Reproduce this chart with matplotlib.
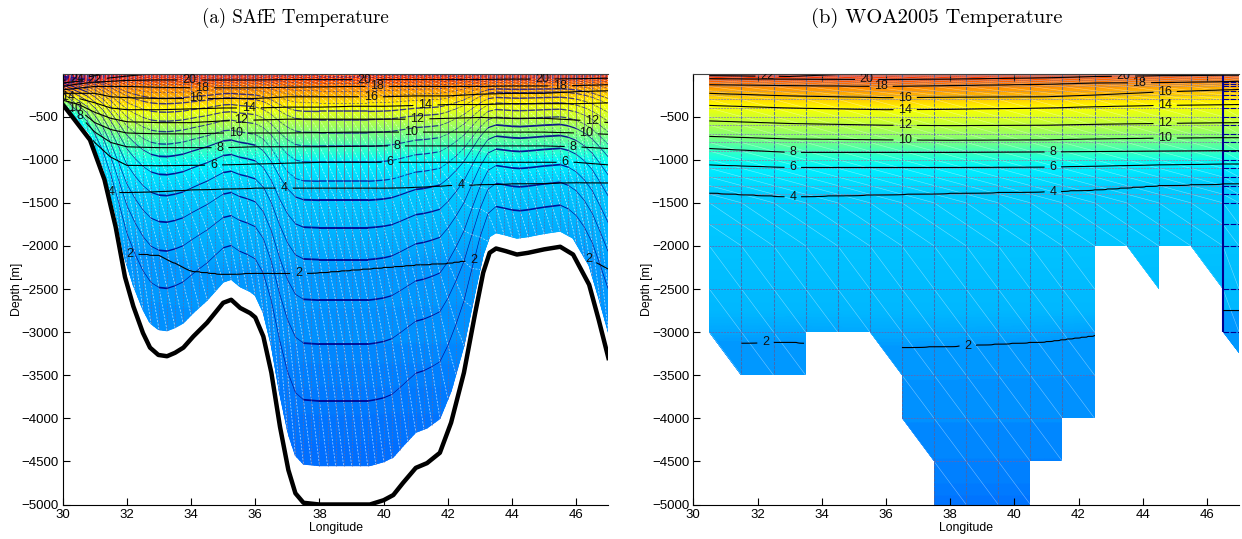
import numpy as np
import matplotlib
matplotlib.use('Agg')
import matplotlib.pyplot as plt
from matplotlib.collections import LineCollection
from matplotlib.colors import LinearSegmentedColormap, Normalize
from matplotlib.patches import Polygon

plt.rcParams['font.family'] = 'Liberation Sans'

# --- (a) SAfE: sea floor
bottom_lon = [30, 30.13, 30.85, 31.3, 31.65, 31.94, 32.2, 32.5, 32.72, 32.98, 33.25, 33.5, 33.76,
              34.07, 34.5, 35, 35.25, 35.53, 35.84, 36, 36.25, 36.5, 36.77, 37.03, 37.25, 37.5,
              38, 39.57, 40, 40.3, 40.6, 41, 41.35, 41.75, 42.1, 42.5, 42.85, 43.1, 43.3, 43.5,
              43.8, 44.15, 44.5, 45, 45.5, 45.9, 46.4, 46.7, 47]
bottom_depth = [-360, -420, -770, -1230, -1780, -2360, -2700, -3010, -3180, -3265, -3280, -3240, -3180,
                -3050, -2890, -2660, -2625, -2720, -2780, -2830, -3050, -3470, -4100, -4600, -4870, -4980,
                -5000, -5000, -4950, -4890, -4750, -4575, -4520, -4400, -4050, -3470, -2780, -2310, -2080, -2030,
                -2060, -2100, -2080, -2040, -2010, -2100, -2450, -2860, -3300]
floor_ratio = 0.91
# model levels, as depths where the model floor is at 4550 m
sigma_depths = [10, 25, 45, 75, 110, 150, 200, 260, 340, 440, 535, 685, 845, 1030,
                1250, 1470, 1790, 2160, 2630, 3140, 3800]

# isotherm depths for (a)
a_lon = [30, 30.5, 31, 31.5, 32, 33, 34, 35, 36, 37, 38, 39, 40, 41, 42, 43, 44, 45, 46, 47]
a_t26 = [60] * 20
a_t24 = [-80, -60, -25, 5, 30, 30, 30, 30, 30, 30, 30, 30, 30, 30, 30, 30, 30, 30, 30, 30]
a_t22 = [-110, -90, -70, -50, -30, 5, 15, 15, 15, 15, 15, 15, 15, 15, 15, 15, 15, 15, 15, 15]
a_t20 = [-150, -120, -100, -90, -80, -75, -75, -75, -75, -70, -70, -70, -70, -70, -70, -70, -65, -65, -60, -55]
a_t18 = [-190, -170, -150, -150, -150, -160, -165, -165, -165, -160, -155, -150, -150, -150, -150, -150, -145, -145, -140, -130]
a_t16 = [-230, -230, -230, -270, -280, -290, -290, -290, -290, -270, -270, -270, -270, -260, -260, -240, -230, -230, -210, -200]
a_t14 = [-270, -290, -340, -400, -420, -420, -410, -400, -400, -390, -390, -380, -380, -370, -360, -360, -350, -350, -350, -340]
a_t12 = [-310, -360, -450, -520, -560, -570, -570, -550, -540, -530, -530, -530, -530, -530, -520, -510, -520, -520, -540, -570]
a_t10 = [-340, -420, -570, -650, -690, -700, -700, -690, -690, -690, -685, -680, -680, -680, -680, -680, -680, -680, -690, -705]
a_t8 = [-370, -480, -680, -800, -850, -860, -860, -860, -850, -850, -850, -845, -840, -840, -840, -840, -840, -840, -850, -870]
a_t6 = [-400, -540, -800, -970, -1065, -1070, -1065, -1060, -1050, -1040, -1030, -1030, -1030, -1030, -1030, -1030, -1030, -1030, -1030, -1060]
a_t4 = [-450, -650, -1000, -1380, -1380, -1370, -1350, -1340, -1330, -1330, -1330, -1330, -1330, -1320, -1300, -1290, -1280, -1275, -1265, -1270]
a_t3 = [-1000, -1300, -1500, -1750, -1750, -1750, -1750, -1750, -1750, -1750, -1750, -1750, -1750, -1750, -1750, -1700, -1650, -1650, -1650, -1700]
a_t2 = [-2000, -2020, -2040, -2050, -2080, -2110, -2290, -2330, -2315, -2320, -2310, -2280, -2250, -2220, -2200, -2150, -2100, -2050, -2060, -2270]
a_t19 = [-3000] * 20
a_t17 = [-3500] * 20
a_t14d = [-4500] * 20
a_temps = [26, 24, 22, 20, 18, 16, 14, 12, 10, 8, 6, 4, 3, 2, 1.9, 1.7, 1.4]
a_table = [a_t26, a_t24, a_t22, a_t20, a_t18, a_t16, a_t14, a_t12, a_t10, a_t8, a_t6, a_t4, a_t3, a_t2, a_t19, a_t17, a_t14d]

# --- (b) WOA2005: isotherm depths
b_lon = [30.5, 33, 36, 38, 41, 42.5, 44.5, 46.5, 47]
b_t24 = [40] * 9
b_t22 = [-25, -35, 10, 15, 15, 15, 15, 15, 15]
b_t20 = [-60, -65, -70, -65, -50, -35, -25, -20, -20]
b_t18 = [-130, -140, -150, -140, -125, -110, -105, -95, -90]
b_t16 = [-230, -260, -280, -275, -270, -250, -215, -190, -185]
b_t14 = [-370, -400, -420, -415, -400, -385, -370, -362, -360]
b_t12 = [-550, -580, -600, -605, -600, -590, -580, -572, -570]
b_t10 = [-730, -760, -770, -775, -770, -760, -750, -745, -745]
b_t8 = [-870, -915, -915, -915, -910, -905, -900, -895, -895]
b_t6 = [-1060, -1090, -1090, -1090, -1085, -1075, -1060, -1050, -1050]
b_t4 = [-1385, -1430, -1405, -1390, -1370, -1350, -1300, -1280, -1280]
b_t3 = [-2750] * 9
b_t2 = [-3130, -3115, -3180, -3165, -3110, -3040, -2800, -2630, -2625]
b_t19 = [-3800] * 9
b_t17 = [-4700] * 9
b_t15 = [-5000] * 9
b_temps = [24, 22, 20, 18, 16, 14, 12, 10, 8, 6, 4, 3, 2, 1.9, 1.7, 1.5]
b_table = [b_t24, b_t22, b_t20, b_t18, b_t16, b_t14, b_t12, b_t10, b_t8, b_t6, b_t4, b_t3, b_t2, b_t19, b_t17, b_t15]

# WOA grid and the outline of its bottom
woa_depths = [0, 10, 20, 30, 50, 75, 100, 125, 150, 200, 250, 300, 400, 500, 600, 700, 800, 900,
              1000, 1100, 1200, 1300, 1400, 1500, 1750, 2000, 2500, 3000, 3500, 4000, 4500, 5000]
woa_edges = [30.5, 31.5, 32.5, 33.5, 34.5, 35.5, 36.5, 37.5, 38.5, 39.5, 40.5, 41.5, 42.5, 43.5, 44.5, 45.5, 46.5, 47]
outline_lon = [30.5, 30.5, 31.5, 33.5, 33.5, 35.5, 36.5, 36.5, 37.5, 37.5, 40.5, 40.5, 41.5, 41.5, 42.5,
               42.5, 43.5, 44.5, 44.5, 45.5, 46.5, 46.5, 47, 47]
outline_depth = [0, -3000, -3500, -3500, -3000, -3000, -3500, -4000, -4500, -5000, -5000, -4500, -4500, -4000, -4000,
                 -2000, -2000, -2500, -2000, -2000, -2500, -3000, -3240, 0]

# colour stops
cmap_temps = [1.0, 1.4, 1.7, 1.9, 2.2, 3, 4, 6, 7, 10, 14, 16, 18, 20, 22, 25]
cmap_rgb = [(0, 100, 255), (0, 112, 255), (0, 130, 255), (0, 150, 255), (0, 165, 255), (0, 185, 255),
            (0, 205, 255), (0, 245, 255), (30, 255, 220), (130, 255, 120), (255, 255, 0), (255, 190, 0),
            (255, 130, 0), (255, 70, 0), (255, 30, 0), (235, 0, 0)]

labels_a = [(30.45, -50), (31, -70), (33.95, -75), (34.35, -165), (34.15, -290), (35.8, -400), (35.57, -550),
            (35.4, -690), (34.9, -860), (34.7, -1060), (36.9, -1330), (31.5, -1370), (42.4, -1300),
            (32.1, -2080), (37.35, -2325), (42.8, -2150), (46.4, -2140), (39.4, -70), (39.8, -150), (39.6, -270),
            (41.3, -365), (41.05, -525), (40.85, -680), (40.4, -840), (40.2, -1030),
            (44.95, -60), (45.5, -145), (46.5, -550), (46.3, -690), (45.9, -845), (45.65, -1035),
            (30.15, -290), (30.4, -400), (30.5, -510)]
labels_b = [(32.3, -30), (35.4, -70), (35.85, -150), (36.6, -280), (36.6, -420), (36.6, -600), (36.6, -770),
            (33.1, -915), (33.1, -1090), (33.1, -1425), (41.2, -910), (41.2, -1085), (41.2, -1370),
            (44.7, -210), (44.7, -370), (44.7, -580), (44.7, -750), (43.4, -30), (43.9, -105),
            (32.25, -3115), (38.55, -3165)]

cmap = LinearSegmentedColormap.from_list(
    'safe', [((t - cmap_temps[0]) / (cmap_temps[-1] - cmap_temps[0]), np.array(c) / 255) for t, c in zip(cmap_temps, cmap_rgb)])
norm = Normalize(cmap_temps[0], cmap_temps[-1])


def temp_field(lon2d, depth2d, knots, table, temps):
    iso = np.array([np.interp(lon2d[0], knots, row) for row in table])
    field = np.zeros(lon2d.shape)
    for i in range(lon2d.shape[1]):
        field[:, i] = np.interp(-depth2d[:, i], -iso[:, i], temps)
    return field


def style_axes(ax):
    ax.set_xlim(30, 47)
    ax.set_ylim(-5000, 0)
    ax.set_xticks(range(30, 47, 2))
    ax.set_yticks(range(-5000, 0, 500))
    ax.tick_params(direction='in', length=5, width=0.8, top=True, labelsize=9.5, pad=3)
    ax.spines['right'].set_visible(False)
    ax.spines['top'].set_color('#404040')
    ax.set_xlabel('Longitude', fontsize=8.8, labelpad=1)
    ax.set_ylabel('Depth [m]', fontsize=8.8, labelpad=-1)
    ax.set_facecolor('white')


def add_labels(ax, cs, points):
    ax.clabel(cs, manual=points, inline=True, inline_spacing=5, fontsize=9, fmt='%d', colors='#111111')
    for t in cs.labelTexts:
        t.set_rotation(0)


fig = plt.figure(figsize=(12.42, 5.39), dpi=100)
ax1 = fig.add_axes([62.7 / 1242, 34.5 / 539, 545.7 / 1242, 431 / 539])
ax2 = fig.add_axes([693.3 / 1242, 34.5 / 539, 545.7 / 1242, 431 / 539])

# panel (a)
lon_fine = np.arange(30, 47.001, 0.05)
floor_fine = np.interp(lon_fine, bottom_lon, bottom_depth) * floor_ratio
sig_fine = np.concatenate([np.linspace(0, 0.1, 60), np.linspace(0.1, 1, 160)[1:]])
X1, S1 = np.meshgrid(lon_fine, sig_fine)
Y1 = S1 * floor_fine
T1 = temp_field(X1, Y1, a_lon, a_table, a_temps)
ax1.pcolormesh(X1, Y1, T1, cmap=cmap, norm=norm, shading='gouraud')

lon_mesh = np.arange(30, 47.001, 0.25)
floor_mesh = np.interp(lon_mesh, bottom_lon, bottom_depth) * floor_ratio
sig_mesh = np.array([0] + sigma_depths + [4550]) / 4550
diag = []
for j in range(len(sig_mesh) - 1):
    for i in range(len(lon_mesh) - 1):
        diag.append([(lon_mesh[i], sig_mesh[j] * floor_mesh[i]),
                     (lon_mesh[i + 1], sig_mesh[j + 1] * floor_mesh[i + 1])])
ax1.add_collection(LineCollection(diag, colors='white', linewidths=0.5, alpha=0.7, linestyles=(0, (3, 2))))
# cell edges: nearly solid grey near the surface, dashed further down
verts_top = [[(x, 0), (x, 0.3 * f)] for x, f in zip(lon_mesh, floor_mesh)]
ax1.add_collection(LineCollection(verts_top, colors='#70708c', linewidths=0.7, alpha=0.85))
verts_deep = [[(x, 0.3 * f), (x, f)] for x, f in zip(lon_mesh, floor_mesh)]
ax1.add_collection(LineCollection(verts_deep, colors='#6868a0', linewidths=0.6, alpha=0.8, linestyles=(0, (2, 1.5))))

# the model levels look heavy where flat, thin where they climb the slopes
for k, s in enumerate(sig_mesh[1:-1]):
    ys = s * floor_mesh
    segs = [[(lon_mesh[i], ys[i]), (lon_mesh[i + 1], ys[i + 1])] for i in range(len(lon_mesh) - 1)]
    rise = np.abs(np.diff(ys))
    if k < 9:
        lc = LineCollection(segs, colors='#000090', linewidths=0.55, alpha=0.55, linestyles=(0, (3, 2.5)))
    elif k < 15:
        lws = np.clip(1.1 - rise / 60, 0.45, 1.1)
        lc = LineCollection(segs, colors='#000090', linewidths=lws, alpha=0.75, linestyles=(0, (5, 1.5)))
    else:
        lws = np.clip(1.4 - rise / 60, 0.45, 1.4)
        lc = LineCollection(segs, colors='#00008b', linewidths=lws, alpha=0.9)
    ax1.add_collection(lc)

# isotherms are contoured on a plain lon/depth grid, which keeps them smooth over the slopes
depth_c = -np.concatenate([np.arange(0, 300, 4), np.arange(300, 5001, 10)])
XC, YC = np.meshgrid(lon_fine, depth_c)
TC = np.ma.masked_where(YC < np.interp(XC, lon_fine, floor_fine), temp_field(XC, YC, a_lon, a_table, a_temps))
cs1 = ax1.contour(XC, YC, TC, levels=range(2, 26, 2), colors='k', linewidths=0.8)
add_labels(ax1, cs1, labels_a)
ax1.plot(bottom_lon, bottom_depth, color='k', lw=3.2, solid_joinstyle='round')
style_axes(ax1)

# panel (b)
lon_b = np.arange(30.5, 47.001, 0.05)
depth_b = -np.concatenate([np.arange(0, 300, 5), np.arange(300, 5001, 10)])
X2, Y2 = np.meshgrid(lon_b, depth_b)
T2 = temp_field(X2, Y2, b_lon, b_table, b_temps)
clip2 = Polygon(list(zip(outline_lon, outline_depth)), closed=True, transform=ax2.transData, fc='none', ec='none')
ax2.add_patch(clip2)
mesh2 = ax2.pcolormesh(X2, Y2, T2, cmap=cmap, norm=norm, shading='gouraud')
mesh2.set_clip_path(clip2)

diag2 = []
for j in range(len(woa_depths) - 1):
    for i in range(len(woa_edges) - 1):
        diag2.append([(woa_edges[i], -woa_depths[j]), (woa_edges[i + 1], -woa_depths[j + 1])])
lc = LineCollection(diag2, colors='white', linewidths=0.4, alpha=0.45)
ax2.add_collection(lc)
lc.set_clip_path(clip2)
hlines = [[(30.5, -d), (47, -d)] for d in woa_depths[1:]]
hwidths = [0.45 if d < 300 else 0.7 for d in woa_depths[1:]]
hcolors = ['#8888b0' if d < 2000 else '#5a6ab8' for d in woa_depths[1:]]
lc = LineCollection(hlines, colors=hcolors, linewidths=hwidths, alpha=0.85, linestyles=(0, (2, 1)))
ax2.add_collection(lc)
lc.set_clip_path(clip2)
vlines = [[(x, 0), (x, -5000)] for x in woa_edges[1:-2]]
lc = LineCollection(vlines, colors='#4a66a8', linewidths=0.75, alpha=0.85, linestyles=(0, (3, 1)))
ax2.add_collection(lc)
lc.set_clip_path(clip2)
# the narrow last column is drawn much darker
lc = LineCollection([[(46.5, 0), (46.5, -3000)]], colors='#000090', linewidths=1.5)
ax2.add_collection(lc)
lc = LineCollection([[(46.5, -d), (47, -d)] for d in woa_depths[6:28]], colors='#000090', linewidths=0.8,
                    linestyles=(0, (5, 1.5)))
ax2.add_collection(lc)
lc.set_clip_path(clip2)

# no contour in the partly filled cells under 3000 m
TC2 = np.ma.masked_where((Y2 < -3000) & ((X2 < 31.5) | ((X2 > 33.5) & (X2 < 36.5))), T2)
cs2 = ax2.contour(X2, Y2, TC2, levels=range(2, 24, 2), colors='k', linewidths=0.8)
cs2.set_clip_path(clip2)
add_labels(ax2, cs2, labels_b)
style_axes(ax2)

fig.text(295 / 1242, 1 - 18 / 539, '(a) SAfE Temperature', family='cmr10', fontsize=13.6, ha='center', va='center')
fig.text(937 / 1242, 1 - 18 / 539, '(b) WOA2005 Temperature', family='cmr10', fontsize=14.8, ha='center', va='center')

fig.savefig('out.png', dpi=100)
